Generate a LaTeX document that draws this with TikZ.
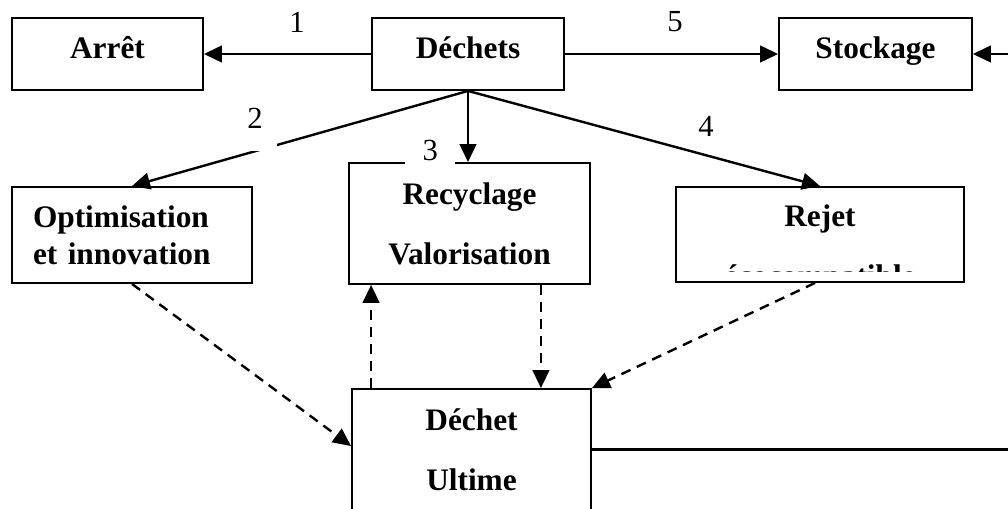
\documentclass[tikz,border=0pt]{standalone}
\usepackage{fontspec}
\setmainfont{Liberation Serif}
\usetikzlibrary{arrows.meta}
\begin{document}
\begin{tikzpicture}[x=0.75pt,y=-0.75pt,
  box/.style={draw, line width=1.4pt, inner sep=0pt, font=\bfseries\fontsize{23.5}{45}\selectfont, align=center},
  toprow/.style={box, minimum height=54pt, text height=16.5pt, text depth=9pt},
  boxtext/.style={font=\bfseries\fontsize{23.5}{28}\selectfont, inner sep=0pt, anchor=base},
  num/.style={font=\fontsize{23}{27}\selectfont, inner sep=0pt},
  arr/.style={line width=1.8pt, -{Triangle[length=13.5pt,width=12.5pt]}},
  darr/.style={arr, dash pattern=on 7.5pt off 5.25pt},
]
\clip (0,0) rectangle (1008,509);
% boxes
\node[toprow, minimum width=143.25pt] (arret) at (107.5,54) {Arrêt};
\node[toprow, minimum width=144pt] (dechets) at (468,54) {Déchets};
\node[toprow, minimum width=144.75pt] (stock) at (875.5,54) {Stockage};
\node[box, minimum width=180pt, minimum height=72pt, text width=148.5pt, align=left,
      font=\bfseries\fontsize{23.5}{27.75}\selectfont] (optim) at (132,235) {Optimisation\\et innovation};
\node[box, minimum width=180.75pt, minimum height=90.75pt] (recyc) at (469.5,223.5) {Recyclage\\Valorisation};
\node[box, minimum width=216pt, minimum height=71.25pt] (rejet) at (820,234.5) {};
\node[boxtext] (rejett) at (820,227) {Rejet};
\begin{scope}
  \clip (677,188) rectangle (963,271.5);
  \node[boxtext] (rejetsub) at (820,287) {écocompatible};
\end{scope}
\node[box, minimum width=179.25pt, minimum height=90.75pt] (ultime) at (471.5,449.5) {Déchet\\Ultime};
% connectors
\coordinate (edge) at (1025,54);
\draw[arr] (dechets) -- (arret);
\draw[arr] (dechets) -- (stock);
\draw[arr] (ultime.east) -| (edge) -- (stock.east);
\draw[arr] (dechets.south) -- (optim.north);
\draw[arr] (dechets.south) -- (dechets.south |- recyc.north);
\draw[arr] (dechets.south) -- (rejet.north);
\draw[darr] (optim.south) -- ([yshift=2.6pt]ultime.west);
\draw[darr] ([xshift=15pt]ultime.north west) -- ([xshift=15pt]ultime.north west |- recyc.south);
\draw[darr] ([xshift=-37.5pt]recyc.south east) -- ([xshift=-37.5pt]recyc.south east |- ultime.north);
\draw[darr] ([xshift=-3.75pt]rejet.south) -- (ultime.north east);
% labels
\node[num] (n1) at (297,22) {1};
\node[num] (n5) at (675,22) {5};
\node[num] (n4) at (706,126) {4};
\node[num, fill=white, anchor=north west, inner xsep=3pt, text width=19.5pt, align=left,
      text height=17.25pt, text depth=17.25pt] (n2) at (243,105) {2};
\node[num, fill=white, anchor=north west, text width=37.5pt, align=center,
      text height=17.25pt, text depth=4.5pt] (n3) at (405,137) {3};
\end{tikzpicture}
\end{document}
